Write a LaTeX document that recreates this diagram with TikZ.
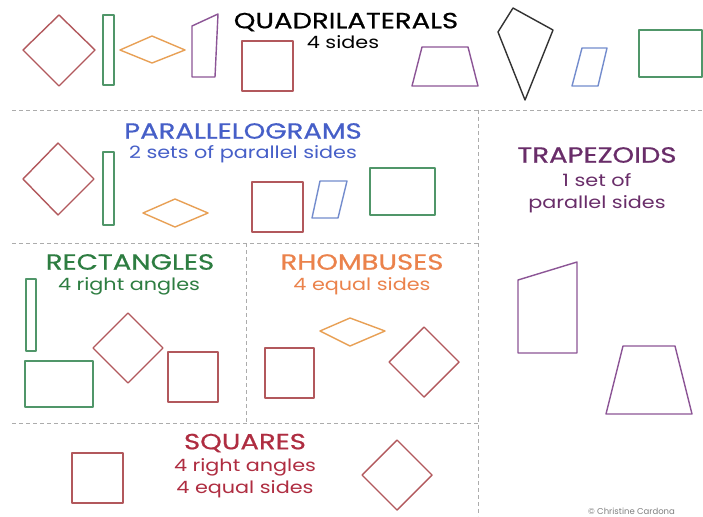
\documentclass[tikz,border=0pt]{standalone}
\usepackage{fontspec}
\setmainfont{Poppins}
\newfontfamily\ttlfont[FakeBold=0.6]{Poppins}
\definecolor{cred}{RGB}{178,88,92}
\definecolor{cgreen}{RGB}{80,150,105}
\definecolor{corange}{RGB}{232,160,85}
\definecolor{cpurple}{RGB}{140,85,150}
\definecolor{cblue}{RGB}{115,140,205}
\definecolor{ckite}{RGB}{50,50,50}
\definecolor{tblue}{RGB}{70,95,200}
\definecolor{tgreen}{RGB}{45,125,65}
\definecolor{torange}{RGB}{235,130,75}
\definecolor{tpurple}{RGB}{105,45,105}
\definecolor{tred}{RGB}{175,45,65}
\newcommand{\ttltext}[1]{\scalebox{1.25}[1]{\ttlfont\fontsize{22}{22}\selectfont #1}}
\newcommand{\subtext}[1]{\scalebox{1.22}[1]{\fontsize{17}{17}\selectfont #1}}
\begin{document}
\begin{tikzpicture}[x=1pt,y=-1pt,
  shp/.style={line width=1.4pt,line join=round},
  divider/.style={draw=gray!65,line width=0.9pt,dash pattern=on 4pt off 3pt},
  ttl/.style={inner sep=0pt},
  sub/.style={inner sep=0pt}]
\useasboundingbox[fill=white] (0,0) rectangle (703,516);
% dividers
\draw[divider] (12,110) -- (703,110);
\draw[divider] (478,110) -- (478,516);
\draw[divider] (12,243) -- (478,243);
\draw[divider] (246,243) -- (246,423);
\draw[divider] (12,423) -- (478,423);
% ---- QUADRILATERALS
\node[ttl,text=black] (tq) at (346,22) {\ttltext{QUADRILATERALS}};
\node[sub,text=black] (sq) at (343,42) {\subtext{4 sides}};
\draw[shp,cred] (59,15) -- (95,50) -- (59,86) -- (23,50) -- cycle;
\draw[shp,cgreen] (103,15) rectangle (114,85);
\draw[shp,corange] (120,50) -- (152,36) -- (185,50) -- (152,63) -- cycle;
\draw[shp,cpurple] (192,26) -- (218,14) -- (215,77) -- (192,77) -- cycle;
\draw[shp,cred] (242,41) rectangle (293,91);
\draw[shp,cpurple] (422,47) -- (468,47) -- (478,86) -- (412,86) -- cycle;
\draw[shp,ckite] (513,8) -- (553,30) -- (525,100) -- (498,32) -- cycle;
\draw[shp,cblue] (582,48) -- (607,48) -- (598,86) -- (572,86) -- cycle;
\draw[shp,cgreen] (639,30) rectangle (702,77);
% ---- PARALLELOGRAMS
\node[ttl,text=tblue] (tp) at (243,131) {\ttltext{PARALLELOGRAMS}};
\node[sub,text=tblue] (sp) at (243,154) {\subtext{2 sets of parallel sides}};
\draw[shp,cred] (58,143) -- (94,179) -- (58,215) -- (23,179) -- cycle;
\draw[shp,cgreen] (103,152) rectangle (114,225);
\draw[shp,corange] (143,213) -- (175,199) -- (208,213) -- (175,227) -- cycle;
\draw[shp,cred] (252,182) rectangle (303,232);
\draw[shp,cblue] (320,181) -- (347,181) -- (338,218) -- (312,218) -- cycle;
\draw[shp,cgreen] (370,168) rectangle (435,215);
% ---- TRAPEZOIDS
\node[ttl,text=tpurple] (tt) at (597,155) {\ttltext{TRAPEZOIDS}};
\node[sub,text=tpurple] (st1) at (597,180) {\subtext{1 set of}};
\node[sub,text=tpurple] (st2) at (597,204) {\subtext{parallel sides}};
\draw[shp,cpurple] (518,280) -- (577,262) -- (577,353) -- (518,353) -- cycle;
\draw[shp,cpurple] (623,346) -- (675,346) -- (692,414) -- (606,414) -- cycle;
% ---- RECTANGLES
\node[ttl,text=tgreen] (tr) at (130,262) {\ttltext{RECTANGLES}};
\node[sub,text=tgreen] (sr) at (129,286) {\subtext{4 right angles}};
\draw[shp,cgreen] (26,279) rectangle (36,351);
\draw[shp,cgreen] (25,361) rectangle (93,407);
\draw[shp,cred] (128,313) -- (163,348) -- (128,383) -- (93,348) -- cycle;
\draw[shp,cred] (168,352) rectangle (218,402);
% ---- RHOMBUSES
\node[ttl,text=torange] (th) at (362,262) {\ttltext{RHOMBUSES}};
\node[sub,text=torange] (sh) at (362,286) {\subtext{4 equal sides}};
\draw[shp,corange] (320,331) -- (350,318) -- (385,331) -- (350,346) -- cycle;
\draw[shp,cred] (265,348) rectangle (314,398);
\draw[shp,cred] (424,327) -- (459,362) -- (424,397) -- (389,362) -- cycle;
% ---- SQUARES
\node[ttl,text=tred] (ts) at (245,443) {\ttltext{SQUARES}};
\node[sub,text=tred] (ss1) at (245,467) {\subtext{4 right angles}};
\node[sub,text=tred] (ss2) at (245,489) {\subtext{4 equal sides}};
\draw[shp,cred] (72,453) rectangle (123,503);
\draw[shp,cred] (397,440) -- (432,475) -- (397,510) -- (362,475) -- cycle;
% copyright
\node[inner sep=0pt,anchor=west,text=gray,font=\fontsize{8.5}{8.5}\selectfont] (cp) at (588,511) {© Christine Cardona};
\end{tikzpicture}
\end{document}
